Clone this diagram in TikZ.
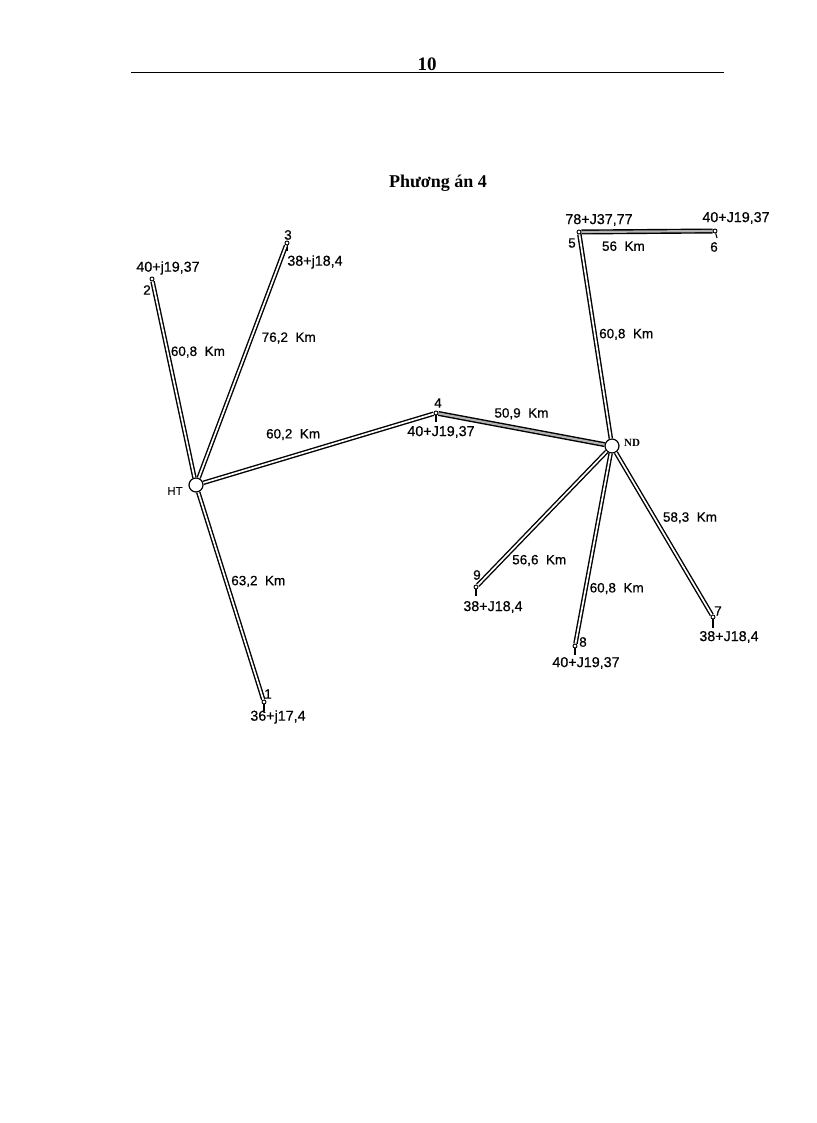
\documentclass[tikz,border=0pt]{standalone}
\usepackage{fontspec}
\setmainfont{Liberation Serif}
\newfontfamily\cadfont[FakeBold=0.5]{Liberation Sans}
\usetikzlibrary{positioning}
\tikzset{
x=1pt, y=-1pt, % the picture is laid out in page pixels
bus/.style={draw, circle, line width=1.2pt, fill=white, minimum size=14pt, inner sep=0pt}, % HT and ND
load/.style={draw, circle, line width=0.9pt, fill=white, minimum size=4pt, inner sep=0pt}, % numbered load points
feeder/.style={draw, double=white, double distance=1.7pt, line width=1.4pt}, % two-circuit line
heavy/.style={feeder, double=gray!60, double distance=2.2pt},
stub/.style={draw, line width=1.1pt},
txt/.style={font=\cadfont\fontsize{13.5}{14}\selectfont, inner sep=0pt, yshift=-1pt},
power/.style={txt, font=\cadfont\fontsize{14.3}{15}\selectfont},
dist/.style={txt, yshift=-1pt},
}

\begin{document}
\begin{tikzpicture}

\useasboundingbox (0,0) rectangle (816,1123);

% page head
\node[inner sep=0pt, font=\bfseries\fontsize{19}{20}\selectfont] at (427,64) (pageno) {10};
\coordinate (ruleL) at (131,72.5);
\coordinate (ruleR) at (724,72.5);
\draw[line width=1pt] (ruleL) -- (ruleR);
\node[inner sep=0pt, font=\bfseries\fontsize{18}{20}\selectfont] at (438,183) (title) {Phương án 4};

% buses
\node[bus] at (196,485) (HT) {};
\node[bus] at (612,446) (ND) {};
\node[txt, font=\cadfont\fontsize{11.5}{12}\selectfont] at (175,490) (HTtext) {HT};
\node[inner sep=0pt, font=\bfseries\fontsize{11}{12}\selectfont] at (632,443) (NDtext) {ND};

% load points
\node[load] at (264,702) (n1) {};
\node[load] at (152,279) (n2) {};
\node[load] at (287,243) (n3) {};
\node[load] at (436,413) (n4) {};
\node[load] at (579,232) (n5) {};
\node[load] at (715,231) (n6) {};
\node[load] at (713,617) (n7) {};
\node[load] at (575,646) (n8) {};
\node[load] at (476,587) (n9) {};

% line stubs under the load points
\coordinate (s1) at (264,711);
\coordinate (s3) at (287,251);
\coordinate (s4) at (436,422);
\coordinate (s6) at (717,238);
\coordinate (s7) at (713,628);
\coordinate (s8) at (575,655);
\coordinate (s9) at (476,596);
\draw[stub] (n1) -- (s1);
\draw[stub] (n3) -- (s3);
\draw[stub] (n4) -- (s4);
\draw[stub] (n6) -- (s6);
\draw[stub] (n7) -- (s7);
\draw[stub] (n8) -- (s8);
\draw[stub] (n9) -- (s9);

% lines with their lengths
\draw (HT) edge[feeder] node[dist, pos=.65, right=3pt] {60,8\ \ Km} (n2);
\draw (HT) edge[feeder] node[dist, pos=.61, right=9pt] {76,2\ \ Km} (n3);
\draw (HT) edge[feeder] node[dist, pos=.39, above=17pt] {60,2\ \ Km} (n4);
\draw (HT) edge[feeder] node[dist, pos=.42, right=5pt] {63,2\ \ Km} (n1);
\draw (n4) edge[heavy] node[dist, pos=.5, above=11pt] {50,9\ \ Km} (ND);
\draw (ND) edge[feeder] node[dist, pos=.52, right=4pt] {60,8\ \ Km} (n5);
\draw (n5) edge[heavy] node[dist, pos=.32, below=7pt] {56\ \ Km} (n6);
\draw (ND) edge[feeder] node[dist, pos=.39, right=9pt] {58,3\ \ Km} (n7);
\draw (ND) edge[feeder] node[dist, pos=.70, right=3pt] {60,8\ \ Km} (n8);
\draw (ND) edge[feeder] node[dist, pos=.80, right=8pt] {56,6\ \ Km} (n9);

% numbers of the load points
\node[txt] at (268,693) (t1) {1};
\node[txt] at (147,289) (t2) {2};
\node[txt] at (288,234) (t3) {3};
\node[txt] at (438,402) (t4) {4};
\node[txt] at (572,242) (t5) {5};
\node[txt] at (714,246) (t6) {6};
\node[txt] at (718,610) (t7) {7};
\node[txt] at (583,641) (t8) {8};
\node[txt] at (477,574) (t9) {9};

% powers of the load points
\node[power] at (278,716) (p1) {36+j17,4};
\node[power] at (168,267) (p2) {40+j19,37};
\node[power] at (315,261) (p3) {38+j18,4};
\node[power] at (441,431) (p4) {40+J19,37};
\node[power] at (599,219) (p5) {78+J37,77};
\node[power] at (736,217) (p6) {40+J19,37};
\node[power] at (729,636) (p7) {38+J18,4};
\node[power] at (586,662) (p8) {40+J19,37};
\node[power] at (493,606) (p9) {38+J18,4};

\end{tikzpicture}
\end{document}
